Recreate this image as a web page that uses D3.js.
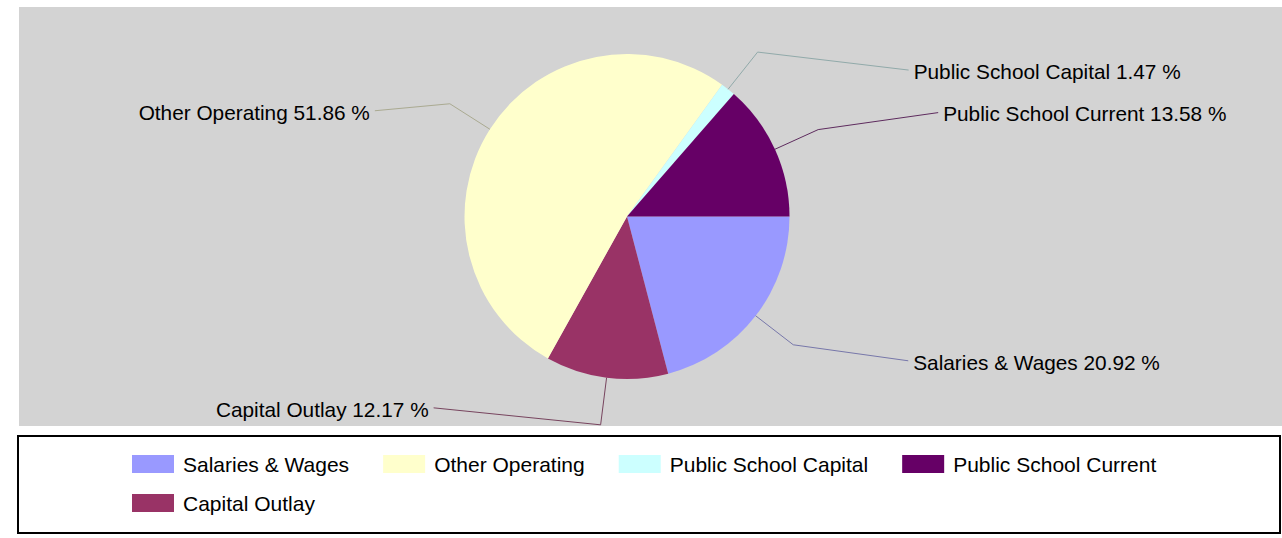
<!DOCTYPE html>
<html>
<head>
<meta charset="utf-8">
<script src="https://cdn.jsdelivr.net/npm/d3@7"></script>
<style>
  body { margin: 0; background: #fff; }
  text { font-family: "Liberation Sans", Arial, sans-serif; }
</style>
</head>
<body>
<svg id="chart" width="1282" height="538"></svg>
<script>
// Expenditure shares, pie
const categories = ["Salaries & Wages", "Other Operating", "Public School Capital", "Public School Current", "Capital Outlay"];
const shares = [20.92, 51.86, 1.47, 13.58, 12.17];
const colors = ["#9999ff", "#ffffcc", "#ccffff", "#660066", "#993366"];
// order the slices are drawn in, clockwise from 3 o'clock
const pieOrder = ["Salaries & Wages", "Capital Outlay", "Other Operating", "Public School Capital", "Public School Current"];

const width = 1282;
const height = 538;
const svg = d3.select("#chart");

const color = d3.scaleOrdinal().domain(categories).range(colors);

// plot area
svg.append("rect")
    .attr("x", 19)
    .attr("y", 7)
    .attr("width", width - 19)
    .attr("height", 419)
    .attr("fill", "#d3d3d3");

const cx = 627, cy = 216.5, radius = 162.5, elbowR = 210;

const data = pieOrder.map(name => ({ name, value: shares[categories.indexOf(name)] }));

const pie = d3.pie()
    .value(d => d.value)
    .sort(null)
    .startAngle(Math.PI / 2)
    .endAngle(Math.PI / 2 + 2 * Math.PI);

const arc = d3.arc().innerRadius(0).outerRadius(radius);
const arcs = pie(data);

const g = svg.append("g").attr("transform", `translate(${cx},${cy})`);

g.selectAll("path.slice")
    .data(arcs)
    .join("path")
    .attr("class", "slice")
    .attr("d", arc)
    .attr("fill", d => color(d.data.name));

// label nudges (from the elbow to the end of the leader line)
const labelNudge = {
    "Salaries & Wages": [115, 16],
    "Capital Outlay": [-167, -17],
    "Other Operating": [-75, 7],
    "Public School Capital": [151, 18],
    "Public School Current": [120, -17]
};

const onCircle = (a, r) => [Math.sin(a) * r, -Math.cos(a) * r];

const labels = g.append("g");
arcs.forEach(d => {
    const mid = (d.startAngle + d.endAngle) / 2;
    const p0 = onCircle(mid, radius);
    const p1 = onCircle(mid, elbowR);
    const [nx, ny] = labelNudge[d.data.name];
    const p2 = [p1[0] + nx, p1[1] + ny];
    const right = nx > 0;
    const c = d3.interpolateRgb(color(d.data.name), "#555")(0.5);

    labels.append("polyline")
        .attr("points", [p0, p1, p2].map(p => p.join(",")).join(" "))
        .attr("fill", "none")
        .attr("stroke", c)
        .attr("stroke-width", 1);

    labels.append("text")
        .attr("x", p2[0] + (right ? 5 : -5))
        .attr("y", p2[1])
        .attr("dy", "0.42em")
        .attr("text-anchor", right ? "start" : "end")
        .style("font-size", "20.8px")
        .attr("fill", "#000")
        .text(`${d.data.name} ${d.data.value.toFixed(2)} %`);
});

// legend
svg.append("rect")
    .attr("x", 18)
    .attr("y", 436)
    .attr("width", 1262)
    .attr("height", 97)
    .attr("fill", "#fff")
    .attr("stroke", "#000")
    .attr("stroke-width", 2);

const legend = svg.append("g");
const legendX0 = 132, legendMaxX = 1260, rowY0 = 464, rowH = 39;
let lx = legendX0, row = 0;
categories.forEach(name => {
    const item = legend.append("g");
    item.append("rect")
        .attr("width", 42)
        .attr("height", 18)
        .attr("y", -9)
        .attr("fill", color(name));
    const t = item.append("text")
        .attr("x", 51)
        .attr("dy", "0.36em")
        .style("font-size", "21px")
        .attr("fill", "#000")
        .text(name);
    const w = 51 + t.node().getComputedTextLength();
    if (lx + w > legendMaxX && lx > legendX0) {
        lx = legendX0;
        row += 1;
    }
    item.attr("transform", `translate(${lx},${rowY0 + row * rowH})`);
    lx += w + 34;
});
</script>
</body>
</html>
